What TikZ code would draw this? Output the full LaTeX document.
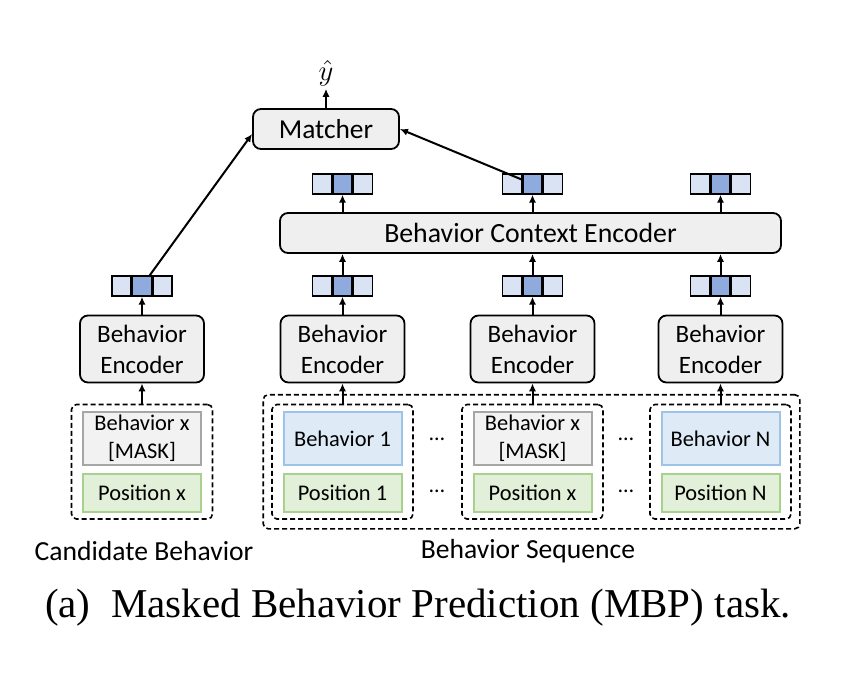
\documentclass[tikz,border=0pt]{standalone}
\usepackage{fontspec}
\setmainfont{Carlito}
\newfontfamily\capfont{Liberation Serif}
\usetikzlibrary{arrows.meta,positioning,fit}

\definecolor{boxgray}{HTML}{EFEFEF}
\definecolor{emblight}{HTML}{DAE3F3}
\definecolor{embdark}{HTML}{8FAADC}
\definecolor{maskfill}{HTML}{F2F2F2}
\definecolor{maskdraw}{HTML}{A6A6A6}
\definecolor{behfill}{HTML}{DEEBF7}
\definecolor{behdraw}{HTML}{9DC3E6}
\definecolor{posfill}{HTML}{E2F0D9}
\definecolor{posdraw}{HTML}{A9D18E}

\begin{document}
\begin{tikzpicture}[
    x=0.5pt, y=-0.5pt,
    >={Latex[length=4pt,width=3.6pt]},
    line width=1pt,
    encbox/.style={draw, fill=boxgray, rounded corners=4pt, line width=0.9pt, align=center,
        font=\fontsize{12.5}{15.5}\selectfont, minimum width=62pt, minimum height=33.5pt, inner sep=0pt},
    cell/.style={draw, fill=emblight, line width=0.7pt, minimum width=9.5pt, minimum height=10pt, inner sep=0pt},
    inbox/.style={line width=1pt, align=center, font=\fontsize{11.2}{14}\selectfont,
        minimum width=59pt, inner sep=0pt},
    maskbox/.style={inbox, draw=maskdraw, fill=maskfill, minimum height=26.5pt},
    behbox/.style={inbox, draw=behdraw, fill=behfill, minimum height=26.5pt},
    posbox/.style={inbox, draw=posdraw, fill=posfill, minimum height=19pt},
    dashbox/.style={draw, line width=0.8pt, dash pattern=on 2.5pt off 1.5pt, rounded corners=2.5pt,
        inner xsep=5.25pt, inner ysep=3.25pt},
    dotsnode/.style={font=\fontsize{11}{11}\selectfont, inner sep=0pt},
    lbl/.style={font=\fontsize{13.8}{16}\selectfont}
]
\useasboundingbox (0,0) rectangle (866,686);

% --- Matcher and output ---
\node[encbox, minimum width=73pt, minimum height=20pt, font=\fontsize{13.7}{16}\selectfont] (match) at (326,129) {Matcher};
\node[font=\fontsize{14}{16}\selectfont, inner sep=1pt] (yhat) at (326,73) {$\hat{y}$};
\draw[->] (match) -- (yhat);

% --- Behavior Context Encoder ---
\node[encbox, minimum width=250.5pt, minimum height=20pt, font=\fontsize{13.9}{16}\selectfont] (ctx) at (530.5,233) {Behavior Context Encoder};

% --- Behavior Encoders ---
\foreach \n/\x in {c/142, s1/342.5, sx/532.5, sn/720.5}
    \node[encbox] (enc\n) at (\x,349) {Behavior\\Encoder};

% --- embedding vectors ---
\foreach \n/\x/\y in {vc/142/286, v1/342.5/286, vx/532.5/286, vn/720.5/286,
                      t1/342.5/184, tx/532.5/184, tn/720.5/184} {
    \node[cell, fill=embdark] (\n) at (\x,\y) {};
    \node[cell, left=0pt of \n] {};
    \node[cell, right=0pt of \n] {};
}

% --- inputs: candidate ---
\node[maskbox] (bc) at (142,438.5) {Behavior x\\{[MASK]}};
\node[posbox] (pc) at (142,492.5) {Position x};
\node[dashbox, fit=(bc)(pc)] (inc) {};

% --- inputs: sequence ---
\node[behbox] (b1) at (342.5,438.5) {Behavior 1};
\node[posbox] (p1) at (342.5,492.5) {Position 1};
\node[dashbox, fit=(b1)(p1)] (in1) {};

\node[maskbox] (bx) at (532.5,438.5) {Behavior x\\{[MASK]}};
\node[posbox] (px) at (532.5,492.5) {Position x};
\node[dashbox, fit=(bx)(px)] (inx) {};

\node[behbox] (bn) at (720.5,438.5) {Behavior N};
\node[posbox] (pn) at (720.5,492.5) {Position N};
\node[dashbox, fit=(bn)(pn)] (inn) {};

\node[dashbox, fit=(in1)(inn), inner xsep=4pt, inner ysep=4.5pt] (seq) {};

\node[dotsnode] (d1) at (437,439) {…};
\node[dotsnode] (d2) at (437,491) {…};
\node[dotsnode] (d3) at (626,439) {…};
\node[dotsnode] (d4) at (626,491) {…};

% --- arrows ---
\draw[->] (inc) -- (encc);
\draw[->] (in1) -- (encs1);
\draw[->] (inx) -- (encsx);
\draw[->] (inn) -- (encsn);

\draw[->] (encc) -- (vc);
\draw[->] (encs1) -- (v1);
\draw[->] (encsx) -- (vx);
\draw[->] (encsn) -- (vn);

\draw[->] (v1) -- (v1 |- ctx.south);
\draw[->] (vx) -- (vx |- ctx.south);
\draw[->] (vn) -- (vn |- ctx.south);

\draw[->] (ctx.north -| t1) -- (t1);
\draw[->] (ctx.north -| tx) -- (tx);
\draw[->] (ctx.north -| tn) -- (tn);

\draw[->] (vc) -- ([yshift=-2.5pt]match.west);
\draw[->] (tx) -- (match.east);

% --- labels ---
\node[lbl] (candlbl) at (144,551) {Candidate Behavior};
\node[lbl] (seqlbl) at (528,551) {Behavior Sequence};
\node[font=\capfont\fontsize{20.5}{24}\selectfont] (cap) at (418,608) {(a)\enspace Masked Behavior Prediction (MBP) task.};

\end{tikzpicture}
\end{document}
